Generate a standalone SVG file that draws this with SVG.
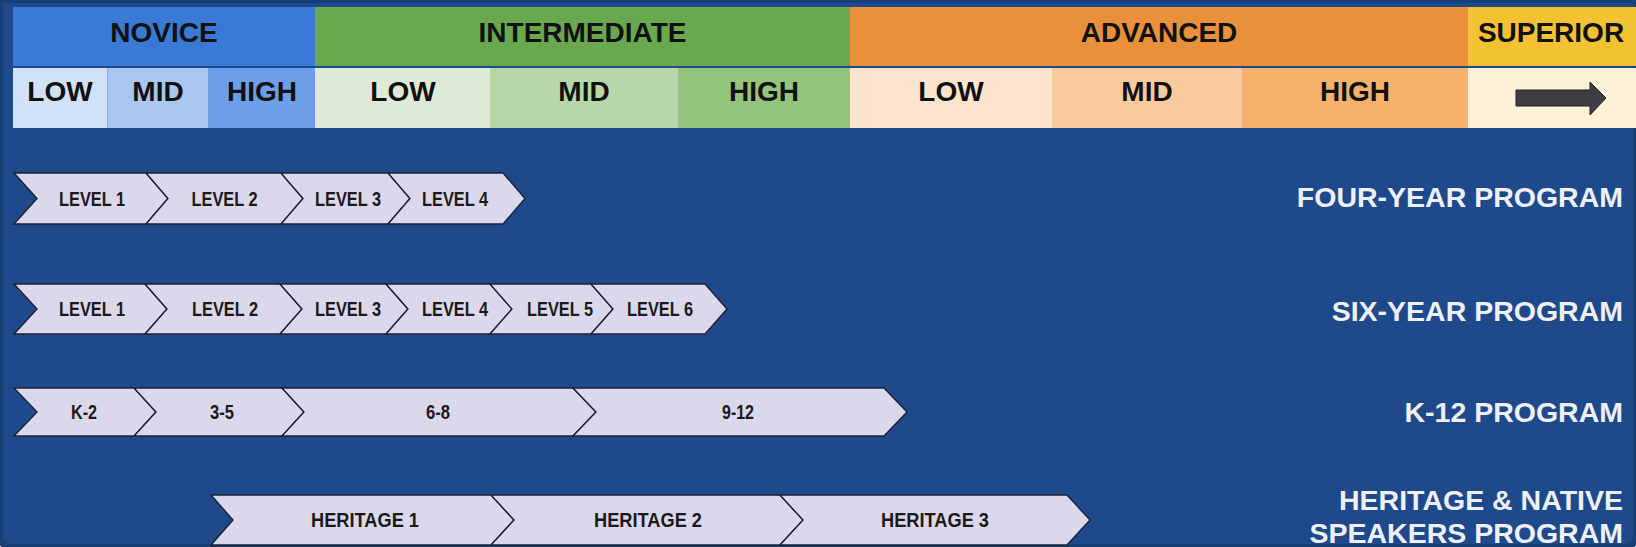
<svg xmlns="http://www.w3.org/2000/svg" width="1636" height="547" viewBox="0 0 1636 547">
<style>
.hd{font-family:"Liberation Sans",Arial,sans-serif;font-weight:bold;font-size:28px;fill:#111;text-anchor:middle}
.pg{font-family:"Liberation Sans",Arial,sans-serif;font-weight:bold;font-size:28.5px;fill:#eef0f6;text-anchor:end}
.cv{fill:#dcd8eb;stroke:#1d2233;stroke-width:1.4;stroke-linejoin:miter}
.ct{font-family:"Liberation Sans",Arial,sans-serif;font-weight:bold;font-size:20px;fill:#1a1a1a;text-anchor:middle}
</style>
<rect width="1636" height="547" fill="#ffffff"/>
<path d="M0,0 H1636 V535 Q1636,547 1624,547 H12 Q0,547 0,535 Z" fill="#1e4a8c"/>
<path d="M0,0 H1636 V535 Q1636,547 1624,547 H12 Q0,547 0,535 Z" fill="none" stroke="#183e78" stroke-width="6"/>

<g id="header">
  <g id="novice"><rect x="13" y="7" width="302" height="59" fill="#3b79d6"/><text class="hd" x="164" y="41.5">NOVICE</text></g>
  <g id="intermediate"><rect x="315" y="7" width="535" height="59" fill="#6aa84f"/><text class="hd" x="582.5" y="41.5">INTERMEDIATE</text></g>
  <g id="advanced"><rect x="850" y="7" width="618" height="59" fill="#e8913a"/><text class="hd" x="1159" y="41.5">ADVANCED</text></g>
  <g id="superior"><rect x="1468" y="7" width="168" height="59" fill="#f2c232"/><text class="hd" x="1551" y="41.5">SUPERIOR</text></g>

  <g id="nov-low"><rect x="13" y="68" width="94.5" height="60" fill="#d0e1f8"/><text class="hd" x="60" y="101">LOW</text></g>
  <g id="nov-mid"><rect x="107.5" y="68" width="101.2" height="60" fill="#a8c6f0"/><text class="hd" x="158" y="101">MID</text></g>
  <g id="nov-high"><rect x="208.7" y="68" width="106.3" height="60" fill="#6d9ee8"/><text class="hd" x="262" y="101">HIGH</text></g>
  <g id="int-low"><rect x="315" y="68" width="175" height="60" fill="#dfead6"/><text class="hd" x="403" y="101">LOW</text></g>
  <g id="int-mid"><rect x="490" y="68" width="188" height="60" fill="#b7d7a8"/><text class="hd" x="584" y="101">MID</text></g>
  <g id="int-high"><rect x="678" y="68" width="172" height="60" fill="#92c47c"/><text class="hd" x="764" y="101">HIGH</text></g>
  <g id="adv-low"><rect x="850" y="68" width="202" height="60" fill="#fde5cd"/><text class="hd" x="951" y="101">LOW</text></g>
  <g id="adv-mid"><rect x="1052" y="68" width="190" height="60" fill="#f9cb9c"/><text class="hd" x="1147" y="101">MID</text></g>
  <g id="adv-high"><rect x="1242" y="68" width="226" height="60" fill="#f6b26b"/><text class="hd" x="1355" y="101">HIGH</text></g>
  <g id="sup-arrow"><rect x="1468" y="68" width="168" height="60" fill="#fdf2d8"/>
    <polygon points="1516,90 1590,90 1590,82 1606,98 1590,115 1590,106 1516,106" fill="#3e3e42" stroke="#222" stroke-width="1"/></g>
</g>

<g id="connectors"></g>

<g id="four-year">
  <g id="fy1"><polygon class="cv" points="14,173 146,173 168,198.5 146,224 14,224 37,198.5"/><text class="ct" x="92" y="205.5" textLength="66" lengthAdjust="spacingAndGlyphs">LEVEL 1</text></g>
  <g id="fy2"><polygon class="cv" points="146,173 281,173 303,198.5 281,224 146,224 168,198.5"/><text class="ct" x="224.5" y="205.5" textLength="66" lengthAdjust="spacingAndGlyphs">LEVEL 2</text></g>
  <g id="fy3"><polygon class="cv" points="281,173 388,173 410,198.5 388,224 281,224 303,198.5"/><text class="ct" x="348" y="205.5" textLength="66" lengthAdjust="spacingAndGlyphs">LEVEL 3</text></g>
  <g id="fy4"><polygon class="cv" points="388,173 503,173 525,198.5 503,224 388,224 410,198.5"/><text class="ct" x="455" y="205.5" textLength="66" lengthAdjust="spacingAndGlyphs">LEVEL 4</text></g>
  <text class="pg" x="1623" y="207">FOUR-YEAR PROGRAM</text>
</g>

<g id="six-year">
  <g id="sy1"><polygon class="cv" points="14,284 145,284 167,309 145,334 14,334 37,309"/><text class="ct" x="92" y="316" textLength="66" lengthAdjust="spacingAndGlyphs">LEVEL 1</text></g>
  <g id="sy2"><polygon class="cv" points="145,284 280,284 302,309 280,334 145,334 167,309"/><text class="ct" x="225" y="316" textLength="66" lengthAdjust="spacingAndGlyphs">LEVEL 2</text></g>
  <g id="sy3"><polygon class="cv" points="280,284 386,284 408,309 386,334 280,334 302,309"/><text class="ct" x="348" y="316" textLength="66" lengthAdjust="spacingAndGlyphs">LEVEL 3</text></g>
  <g id="sy4"><polygon class="cv" points="386,284 490,284 512,309 490,334 386,334 408,309"/><text class="ct" x="455" y="316" textLength="66" lengthAdjust="spacingAndGlyphs">LEVEL 4</text></g>
  <g id="sy5"><polygon class="cv" points="490,284 591,284 613,309 591,334 490,334 512,309"/><text class="ct" x="560" y="316" textLength="66" lengthAdjust="spacingAndGlyphs">LEVEL 5</text></g>
  <g id="sy6"><polygon class="cv" points="591,284 705,284 727,309 705,334 591,334 613,309"/><text class="ct" x="660" y="316" textLength="66" lengthAdjust="spacingAndGlyphs">LEVEL 6</text></g>
  <text class="pg" x="1623" y="321">SIX-YEAR PROGRAM</text>
</g>

<g id="k12">
  <g id="k1"><polygon class="cv" points="14,388 134,388 156,412 134,436 14,436 37,412"/><text class="ct" x="84" y="419" textLength="26" lengthAdjust="spacingAndGlyphs">K-2</text></g>
  <g id="k2"><polygon class="cv" points="134,388 282,388 304,412 282,436 134,436 156,412"/><text class="ct" x="222" y="419" textLength="24" lengthAdjust="spacingAndGlyphs">3-5</text></g>
  <g id="k3"><polygon class="cv" points="282,388 573,388 596,412 573,436 282,436 304,412"/><text class="ct" x="438" y="419" textLength="24" lengthAdjust="spacingAndGlyphs">6-8</text></g>
  <g id="k4"><polygon class="cv" points="573,388 884,388 907,412 884,436 573,436 596,412"/><text class="ct" x="738" y="419" textLength="32" lengthAdjust="spacingAndGlyphs">9-12</text></g>
  <text class="pg" x="1623" y="422">K-12 PROGRAM</text>
</g>

<g id="heritage">
  <g id="h1"><polygon class="cv" points="211,495 491,495 514,520 491,545 211,545 233,520"/><text class="ct" x="365" y="527" textLength="108" lengthAdjust="spacingAndGlyphs">HERITAGE 1</text></g>
  <g id="h2"><polygon class="cv" points="491,495 780,495 803,520 780,545 491,545 514,520"/><text class="ct" x="648" y="527" textLength="108" lengthAdjust="spacingAndGlyphs">HERITAGE 2</text></g>
  <g id="h3"><polygon class="cv" points="780,495 1067,495 1090,520 1067,545 780,545 803,520"/><text class="ct" x="935" y="527" textLength="108" lengthAdjust="spacingAndGlyphs">HERITAGE 3</text></g>
  <text class="pg" x="1623" y="510">HERITAGE &amp; NATIVE</text>
  <text class="pg" x="1623" y="543">SPEAKERS PROGRAM</text>
</g>
</svg>
